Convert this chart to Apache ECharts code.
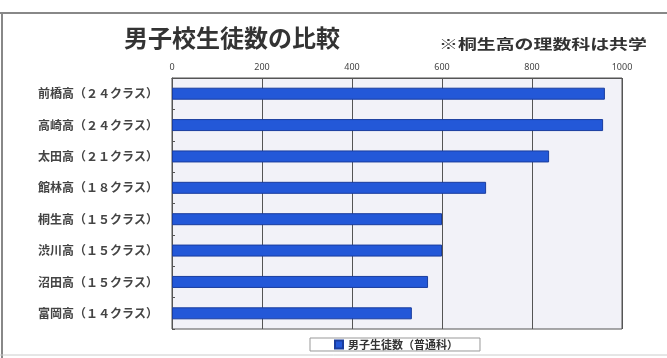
<!DOCTYPE html>
<html><head><meta charset="utf-8">
<script src="https://cdn.jsdelivr.net/npm/echarts@6/dist/echarts.min.js"></script>
<style>html,body{margin:0;padding:0;background:#fff}#c{width:667px;height:358px}</style>
</head><body><div id="c"></div>
<script>
const categories = ['前橋高（２４クラス）','高崎高（２４クラス）','太田高（２１クラス）','館林高（１８クラス）','桐生高（１５クラス）','渋川高（１５クラス）','沼田高（１５クラス）','富岡高（１４クラス）'];
const values = [962, 958, 838, 698, 600, 600, 569, 533];
const seriesName = '男子生徒数（普通科）';
const titleText = '男子校生徒数の比較';
const noteText = '※桐生高の理数科は共学';

const chart = echarts.init(document.getElementById('c'), null, {renderer:'canvas'});
chart.setOption({
  backgroundColor:'#fff',
  animation:false,
  title:[
    {text:titleText,left:119,top:21,textStyle:{fontFamily:'Noto Sans CJK JP',fontSize:24,fontWeight:'bold',color:'#333'}}
  ],
  graphic:[
    {type:'line',shape:{x1:0,y1:13,x2:667,y2:13},style:{stroke:'#888',lineWidth:2}},
    {type:'line',shape:{x1:2,y1:13,x2:2,y2:358},style:{stroke:'#888',lineWidth:2}},
    {type:'line',shape:{x1:0,y1:355,x2:667,y2:355},style:{stroke:'#ccc',lineWidth:1}},
    {type:'text',x:439,y:44,scaleX:1.35,style:{text:noteText,fontFamily:'Noto Sans CJK JP',fontSize:14,fontWeight:'bold',fill:'#333',verticalAlign:'middle'}}
  ],
  legend:{
    data:[seriesName],left:310,top:338,icon:'rect',
    itemWidth:8,itemHeight:8,itemGap:4,
    padding:[1,22,1,24],
    borderColor:'#999',borderWidth:1,
    textStyle:{fontFamily:'Noto Sans CJK JP',fontSize:11,fontWeight:'bold',color:'#333'}
  },
  grid:{left:172,right:45,top:78,bottom:29,backgroundColor:'#f2f2f8',show:true,borderColor:'#555',borderWidth:1},
  xAxis:{
    type:'value',position:'top',min:0,max:1000,interval:200,
    axisLine:{show:true,lineStyle:{color:'#555'}},
    axisTick:{show:false},
    axisLabel:{fontSize:9,color:'#444',margin:6,fontFamily:'Noto Sans',formatter:v=>String(v)},
    splitLine:{show:true,lineStyle:{color:'#555',width:1}}
  },
  yAxis:{
    type:'category',inverse:true,data:categories,
    axisLine:{show:true,lineStyle:{color:'#555'}},
    axisTick:{show:true,inside:true,length:3,lineStyle:{color:'#555'}},
    axisLabel:{fontSize:12,fontWeight:'bold',color:'#444',margin:14,fontFamily:'Noto Sans CJK JP'}
  },
  series:[{
    name:seriesName,type:'bar',data:values,barWidth:12,
    itemStyle:{color:'#2358d8',borderColor:'#1a3d9e',borderWidth:1}
  }]
});
</script></body></html>
